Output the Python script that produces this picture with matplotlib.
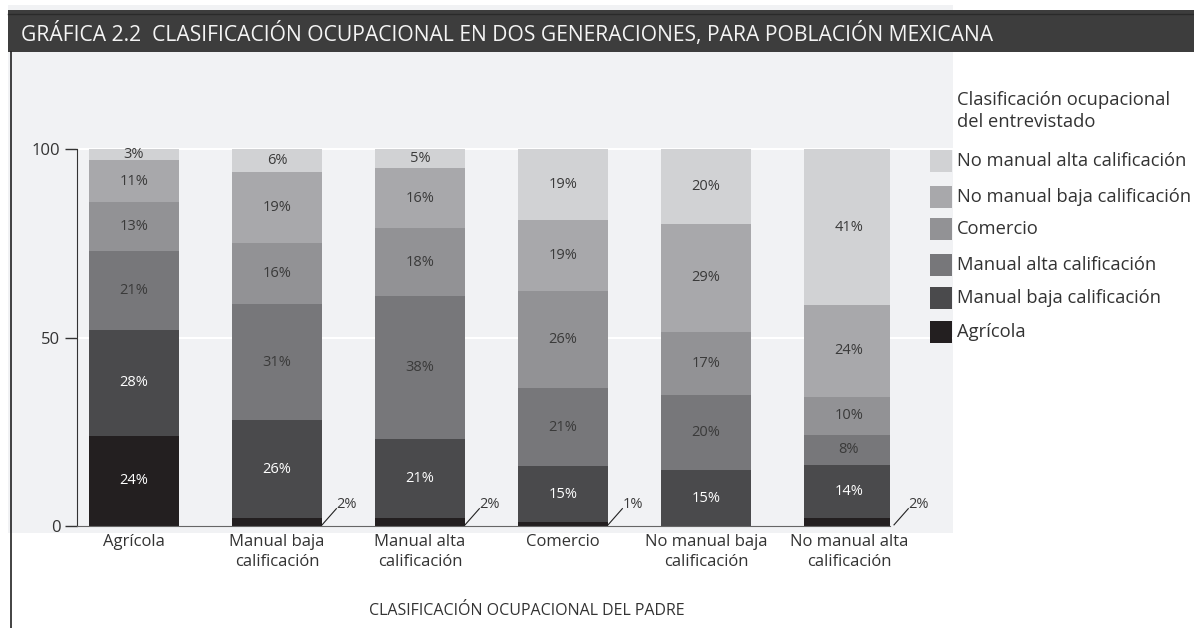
import matplotlib
matplotlib.use("Agg")
import matplotlib.pyplot as plt
from matplotlib.patches import Rectangle
from matplotlib.lines import Line2D

plt.rcParams['font.family'] = ['Open Sans', 'DejaVu Sans']

# father's occupation (x axis)
fathers = ['Agrícola', 'Manual baja\ncalificación', 'Manual alta\ncalificación',
           'Comercio', 'No manual baja\ncalificación', 'No manual alta\ncalificación']
# interviewee's occupation (stack order, bottom to top)
groups = ['Agrícola', 'Manual baja calificación', 'Manual alta calificación',
          'Comercio', 'No manual baja calificación', 'No manual alta calificación']
agricola = [24, 2, 2, 1, 0, 2]
manual_baja = [28, 26, 21, 15, 15, 14]
manual_alta = [21, 31, 38, 21, 20, 8]
comercio = [13, 16, 18, 26, 17, 10]
nomanual_baja = [11, 19, 16, 19, 29, 24]
nomanual_alta = [3, 6, 5, 19, 20, 41]
series = [agricola, manual_baja, manual_alta, comercio, nomanual_baja, nomanual_alta]

colors = ['#231f20', '#4a4a4c', '#77777a', '#929295', '#a8a8ab', '#d1d2d4']
txt_colors = ['white', 'white', '#3a3a3a', '#3a3a3a', '#3a3a3a', '#3a3a3a']

W, H = 1194, 628
fig = plt.figure(figsize=(W / 100, H / 100), dpi=100)
fig.patch.set_facecolor('white')

def fx(x):
    return x / W

def fy(y):
    return 1 - y / H

# background panel and title bar
fig.add_artist(Rectangle((fx(8), fy(533)), fx(953 - 8), (533 - 5) / H,
                         facecolor='#f1f2f4', edgecolor='none', zorder=0))
fig.add_artist(Rectangle((fx(8), fy(52)), 1 - fx(8), 42 / H,
                         facecolor='#3d3d3d', edgecolor='none', zorder=1))
fig.add_artist(Line2D([fx(8), 1], [fy(14), fy(14)], color='#2a2a2a', lw=1))
fig.add_artist(Line2D([fx(11), fx(11)], [fy(52), 0], color='#222222', lw=1.2))
fig.text(fx(21), fy(34), 'GRÁFICA 2.2  CLASIFICACIÓN OCUPACIONAL EN DOS GENERACIONES, PARA POBLACIÓN MEXICANA',
         color='#f4f4f4', fontsize=15.2, va='center', ha='left')

ax = fig.add_axes([fx(77), fy(526), fx(890 - 77), 105 * 3.77 / H])
ax.set_facecolor('none')
ax.set_xlim(-0.399, 5.287)
ax.set_ylim(0, 105)

for yv in [50, 100]:
    ax.axhline(yv, xmin=0, xmax=(953 - 77) / 813, color='white', lw=1.5, clip_on=False, zorder=0)

x = range(len(fathers))
totals = [sum(col) for col in zip(*series)]
bottom = [0.0] * len(fathers)
width = 0.63
for s, vals in enumerate(series):
    h = [v * 100 / t for v, t in zip(vals, totals)]
    ax.bar(x, h, width, bottom=bottom, color=colors[s], zorder=2)
    for i, v in enumerate(vals):
        if v >= 3:
            ax.text(i, bottom[i] + h[i] / 2, f'{v}%', ha='center', va='center',
                    fontsize=10.5, color=txt_colors[s], zorder=3)
        elif v > 0:
            x0 = i + width / 2
            ax.plot([x0, x0 + 0.1], [bottom[i] + 0.3, 4.6], color='#222222', lw=0.8,
                    zorder=3, clip_on=False)
            ax.text(x0 + 0.1, 5.6, f'{v}%', ha='left', va='center',
                    fontsize=10.5, color='#3a3a3a', zorder=3, clip_on=False)
    bottom = [b + hh for b, hh in zip(bottom, h)]

ax.set_xticks(list(x))
ax.set_xticklabels(fathers, fontsize=12, color='#333333', linespacing=1.32)
ax.tick_params(axis='x', length=0, pad=6)
ax.set_yticks([0, 50, 100])
ax.tick_params(axis='y', length=9, width=1, color='#333333', labelsize=12,
               labelcolor='#333333', pad=3)
ax.spines['top'].set_visible(False)
ax.spines['right'].set_visible(False)
ax.spines['left'].set_bounds(0, 100)
ax.spines['left'].set_color('#333333')
ax.spines['bottom'].set_color('#666666')

fig.text(fx(527), fy(611), 'CLASIFICACIÓN OCUPACIONAL DEL PADRE', ha='center', va='center',
         fontsize=11.5, color='#333333')

# legend
fig.text(fx(957), fy(111), 'Clasificación ocupacional\ndel entrevistado', ha='left', va='center',
         fontsize=13.2, color='#333333', linespacing=1.35)
leg_y = [161, 197, 229, 265, 298, 332]
for k in range(len(groups)):
    idx = len(groups) - 1 - k
    fig.add_artist(Rectangle((fx(930), fy(leg_y[k] + 11)), fx(22), 22 / H,
                             facecolor=colors[idx], edgecolor='none'))
    fig.text(fx(957), fy(leg_y[k]), groups[idx], ha='left', va='center',
             fontsize=13.2, color='#333333')

fig.savefig('out.png', dpi=100)
